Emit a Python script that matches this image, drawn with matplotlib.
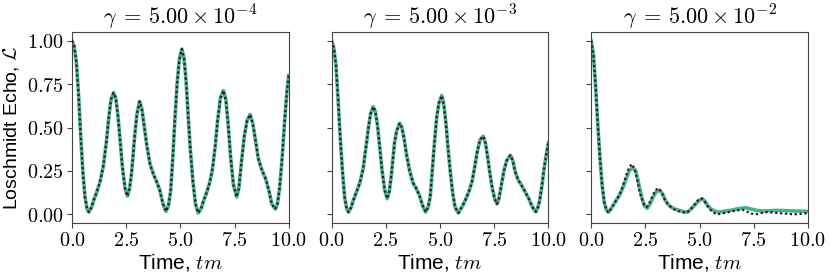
import matplotlib
matplotlib.use('Agg')
import matplotlib.pyplot as plt
from matplotlib.ticker import FuncFormatter

plt.rcParams['mathtext.fontset'] = 'cm'
plt.rcParams['font.family'] = ['Liberation Sans', 'DejaVu Sans']

# gamma = 5e-4 (both curves coincide)
t1 = [0.0, 0.1, 0.2, 0.3, 0.4, 0.5, 0.6, 0.7, 0.78, 0.9, 1.0, 1.15, 1.3, 1.45, 1.6, 1.7, 1.8,
      1.92, 2.02, 2.12, 2.22, 2.32, 2.45, 2.56, 2.66, 2.76, 2.9, 3.0, 3.12, 3.22, 3.32, 3.45,
      3.6, 3.76, 3.9, 4.05, 4.2, 4.34, 4.45, 4.55, 4.65, 4.75, 4.85, 4.95, 5.07, 5.17, 5.27,
      5.37, 5.47, 5.58, 5.7, 5.82, 5.95, 6.05, 6.2, 6.35, 6.47, 6.6, 6.72, 6.85, 6.99, 7.1,
      7.2, 7.32, 7.45, 7.6, 7.7, 7.82, 7.95, 8.08, 8.22, 8.35, 8.45, 8.6, 8.75, 8.95, 9.1,
      9.22, 9.38, 9.48, 9.58, 9.7, 9.82, 9.92, 10.0]
echo1 = [1.00, 0.97, 0.88, 0.70, 0.46, 0.25, 0.10, 0.03, 0.013, 0.04, 0.08, 0.13, 0.19, 0.28,
         0.43, 0.56, 0.66, 0.70, 0.67, 0.57, 0.43, 0.28, 0.15, 0.105, 0.15, 0.25, 0.46, 0.58,
         0.65, 0.61, 0.52, 0.40, 0.29, 0.23, 0.19, 0.14, 0.06, 0.017, 0.05, 0.13, 0.32, 0.55,
         0.75, 0.89, 0.952, 0.90, 0.76, 0.55, 0.36, 0.19, 0.06, 0.008, 0.03, 0.07, 0.12, 0.18,
         0.25, 0.38, 0.54, 0.67, 0.713, 0.66, 0.53, 0.33, 0.17, 0.10, 0.15, 0.30, 0.45, 0.54,
         0.575, 0.52, 0.44, 0.32, 0.26, 0.20, 0.13, 0.06, 0.03, 0.06, 0.15, 0.33, 0.55, 0.71,
         0.80]

# gamma = 5e-3 (both curves coincide)
t2 = [0.0, 0.1, 0.2, 0.3, 0.4, 0.5, 0.6, 0.7, 0.78, 0.9, 1.0, 1.15, 1.3, 1.45, 1.6, 1.7, 1.8,
      1.92, 2.02, 2.12, 2.22, 2.32, 2.45, 2.56, 2.66, 2.76, 2.9, 3.0, 3.14, 3.24, 3.34, 3.45,
      3.6, 3.76, 3.9, 4.05, 4.2, 4.34, 4.45, 4.55, 4.65, 4.75, 4.85, 4.95, 5.08, 5.18, 5.28,
      5.38, 5.48, 5.59, 5.7, 5.85, 5.95, 6.05, 6.2, 6.36, 6.48, 6.6, 6.72, 6.85, 7.0, 7.1,
      7.2, 7.3, 7.4, 7.52, 7.63, 7.72, 7.82, 7.95, 8.08, 8.25, 8.36, 8.46, 8.6, 8.75, 8.97,
      9.1, 9.2, 9.32, 9.42, 9.52, 9.6, 9.7, 9.8, 9.9, 10.0]
echo2 = [1.00, 0.96, 0.86, 0.66, 0.44, 0.25, 0.10, 0.03, 0.013, 0.04, 0.08, 0.13, 0.18, 0.26,
         0.40, 0.50, 0.58, 0.62, 0.59, 0.51, 0.39, 0.26, 0.14, 0.09, 0.13, 0.23, 0.41, 0.48,
         0.525, 0.50, 0.44, 0.35, 0.25, 0.18, 0.15, 0.11, 0.05, 0.013, 0.04, 0.10, 0.26, 0.42,
         0.56, 0.64, 0.684, 0.63, 0.52, 0.37, 0.24, 0.12, 0.04, 0.008, 0.03, 0.05, 0.09, 0.14,
         0.19, 0.27, 0.36, 0.43, 0.45, 0.41, 0.33, 0.24, 0.16, 0.09, 0.06, 0.09, 0.16, 0.25,
         0.31, 0.34, 0.31, 0.25, 0.20, 0.17, 0.12, 0.09, 0.06, 0.03, 0.015, 0.04, 0.08, 0.16,
         0.26, 0.34, 0.41]

# gamma = 5e-2, solid (green)
t3_solid = [0.0, 0.1, 0.2, 0.3, 0.4, 0.5, 0.6, 0.7, 0.8, 0.9, 1.0, 1.15, 1.3, 1.45, 1.6, 1.75,
            1.92, 2.05, 2.15, 2.25, 2.35, 2.45, 2.58, 2.72, 2.86, 3.0, 3.14, 3.28, 3.42, 3.6,
            3.8, 4.06, 4.3, 4.44, 4.6, 4.75, 4.9, 5.03, 5.13, 5.25, 5.38, 5.51, 5.7, 5.9, 6.15,
            6.43, 6.8, 7.12, 7.4, 7.65, 7.9, 8.3, 8.59, 9.0, 9.5, 10.0]
echo3_solid = [1.00, 0.92, 0.74, 0.52, 0.33, 0.17, 0.07, 0.025, 0.012, 0.03, 0.05, 0.08, 0.11,
               0.15, 0.20, 0.25, 0.27, 0.25, 0.20, 0.14, 0.09, 0.05, 0.035, 0.06, 0.10, 0.13,
               0.14, 0.12, 0.08, 0.05, 0.033, 0.023, 0.014, 0.013, 0.03, 0.05, 0.07, 0.085,
               0.09, 0.075, 0.05, 0.033, 0.018, 0.013, 0.018, 0.023, 0.033, 0.038, 0.03, 0.022,
               0.019, 0.021, 0.023, 0.021, 0.019, 0.017]

# gamma = 5e-2, dotted (purple)
t3_dot = [0.0, 0.1, 0.2, 0.3, 0.4, 0.5, 0.6, 0.7, 0.8, 0.9, 1.0, 1.15, 1.3, 1.45, 1.6, 1.75,
          1.87, 2.0, 2.1, 2.2, 2.3, 2.42, 2.56, 2.7, 2.84, 2.97, 3.1, 3.24, 3.37, 3.52, 3.68,
          3.85, 4.06, 4.37, 4.52, 4.67, 4.85, 4.98, 5.1, 5.25, 5.4, 5.6, 5.82, 6.0, 6.3, 6.6,
          6.97, 7.2, 7.4, 7.59, 7.8, 8.13, 8.4, 8.75, 9.05, 9.35, 9.7, 10.0]
echo3_dot = [1.00, 0.92, 0.74, 0.52, 0.33, 0.17, 0.07, 0.025, 0.01, 0.03, 0.05, 0.08, 0.11,
             0.16, 0.22, 0.27, 0.29, 0.26, 0.21, 0.15, 0.10, 0.06, 0.042, 0.07, 0.11, 0.14,
             0.15, 0.13, 0.09, 0.06, 0.042, 0.027, 0.017, 0.008, 0.02, 0.042, 0.07, 0.09, 0.09,
             0.07, 0.04, 0.012, 0.0, 0.004, 0.012, 0.02, 0.027, 0.015, 0.004, 0.0, 0.007,
             0.013, 0.01, 0.006, 0.003, 0.0, 0.003, 0.007]

titles = [r'$\gamma\;=\,5.00\times10^{-4}$', r'$\gamma\;=\,5.00\times10^{-3}$',
          r'$\gamma\;=\,5.00\times10^{-2}$']
xticks = [0.0, 2.5, 5.0, 7.5, 10.0]
yticks = [0.0, 0.25, 0.5, 0.75, 1.0]

solid_data = [(t1, echo1), (t2, echo2), (t3_solid, echo3_solid)]
dot_data = [(t1, echo1), (t2, echo2), (t3_dot, echo3_dot)]

fig, axes = plt.subplots(1, 3, figsize=(8.31, 2.75), dpi=100, sharey=True)
fig.subplots_adjust(left=0.0866, right=0.9723, bottom=0.189, top=0.8836, wspace=0.198)

for i, ax in enumerate(axes):
    ax.plot(solid_data[i][0], solid_data[i][1], color='#3dbb78', lw=2.6, zorder=2)
    ax.plot(dot_data[i][0], dot_data[i][1], color='#440154', lw=1.6,
            linestyle=(0, (1, 1.2)), zorder=3)
    ax.set_xlim(0, 10)
    ax.set_ylim(-0.05, 1.05)
    ax.set_xticks(xticks)
    ax.set_yticks(yticks)
    ax.xaxis.set_major_formatter(FuncFormatter(lambda v, p: r'$%.1f$' % v))
    ax.yaxis.set_major_formatter(FuncFormatter(lambda v, p: r'$%.2f$' % v))
    ax.tick_params(labelsize=14.5, color='#444444', pad=2.5)
    for s in ax.spines.values():
        s.set_color('#444444')
    ax.set_title(titles[i], fontsize=16, pad=5)
    ax.set_xlabel(r'Time, $tm$', fontsize=15, labelpad=1)

axes[0].set_ylabel(r'Loschmidt Echo, $\mathcal{L}$', fontsize=14, labelpad=4)

fig.savefig('out.png', dpi=100)
